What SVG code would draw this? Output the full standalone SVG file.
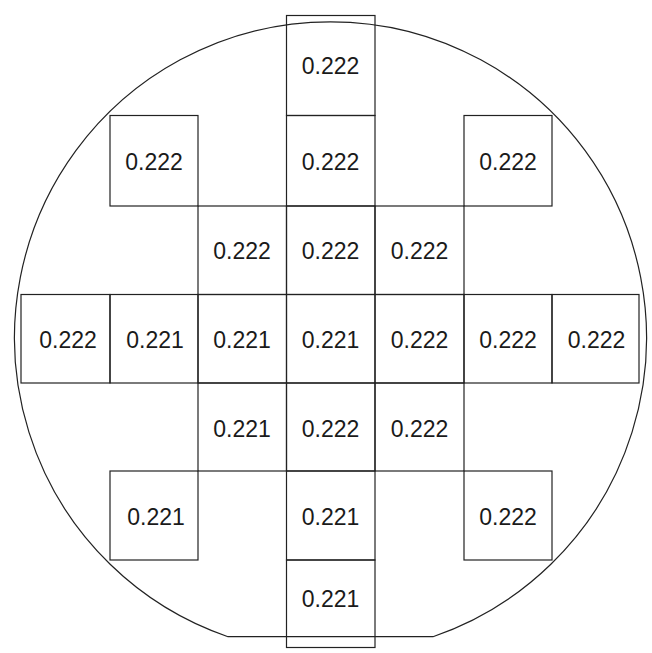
<svg xmlns="http://www.w3.org/2000/svg" width="652" height="653" viewBox="0 0 652 653">
<style>
.cell rect{fill:none;stroke:#222;stroke-width:1.2}
.cell text{font-family:"Liberation Sans",Arial,sans-serif;font-size:23px;fill:#1a1a1a;text-anchor:middle}
.wafer{fill:none;stroke:#222;stroke-width:1.2}
</style>
<rect width="652" height="653" fill="#fff"/>
<g id="wafer"><path class="wafer" d="M228,636.7 A316,316 0 1 1 433,636.7 Z"/></g>
<g id="r0c3" class="cell"><rect x="286.5" y="15.5" width="88.5" height="100"/><text x="330.5" y="73.5">0.222</text></g>
<g id="r1c1" class="cell"><rect x="110" y="115.5" width="88" height="90.5"/><text x="154" y="170">0.222</text></g>
<g id="r1c3" class="cell"><rect x="286.5" y="115.5" width="88.5" height="90.5"/><text x="330.5" y="170">0.222</text></g>
<g id="r1c5" class="cell"><rect x="464" y="115.5" width="88" height="90.5"/><text x="508" y="170">0.222</text></g>
<g id="r2c2" class="cell"><rect x="198" y="206" width="88.5" height="88.5"/><text x="242" y="259.3">0.222</text></g>
<g id="r2c3" class="cell"><rect x="286.5" y="206" width="88.5" height="88.5"/><text x="330.5" y="259.3">0.222</text></g>
<g id="r2c4" class="cell"><rect x="375" y="206" width="89" height="88.5"/><text x="419.5" y="259.3">0.222</text></g>
<g id="r3c0" class="cell"><rect x="21" y="294.5" width="89" height="88.5"/><text x="68" y="347.7">0.222</text></g>
<g id="r3c1" class="cell"><rect x="110" y="294.5" width="88" height="88.5"/><text x="155" y="347.7">0.221</text></g>
<g id="r3c2" class="cell"><rect x="198" y="294.5" width="88.5" height="88.5"/><text x="242" y="347.7">0.221</text></g>
<g id="r3c3" class="cell"><rect x="286.5" y="294.5" width="88.5" height="88.5"/><text x="330.5" y="347.7">0.221</text></g>
<g id="r3c4" class="cell"><rect x="375" y="294.5" width="89" height="88.5"/><text x="419.5" y="347.7">0.222</text></g>
<g id="r3c5" class="cell"><rect x="464" y="294.5" width="88" height="88.5"/><text x="508" y="347.7">0.222</text></g>
<g id="r3c6" class="cell"><rect x="552" y="294.5" width="87" height="88.5"/><text x="596.5" y="347.7">0.222</text></g>
<g id="r4c2" class="cell"><rect x="198" y="383" width="88.5" height="88"/><text x="242" y="436.7">0.221</text></g>
<g id="r4c3" class="cell"><rect x="286.5" y="383" width="88.5" height="88"/><text x="330.5" y="436.7">0.222</text></g>
<g id="r4c4" class="cell"><rect x="375" y="383" width="89" height="88"/><text x="419.5" y="436.7">0.222</text></g>
<g id="r5c1" class="cell"><rect x="110" y="471" width="88" height="89"/><text x="156" y="525">0.221</text></g>
<g id="r5c3" class="cell"><rect x="286.5" y="471" width="88.5" height="89"/><text x="330.5" y="525">0.221</text></g>
<g id="r5c5" class="cell"><rect x="464" y="471" width="88" height="89"/><text x="508" y="525">0.222</text></g>
<g id="r6c3" class="cell"><rect x="286.5" y="560" width="88.5" height="87.5"/><text x="330.5" y="607.3">0.221</text></g>
<g id="connectors"></g>
</svg>
